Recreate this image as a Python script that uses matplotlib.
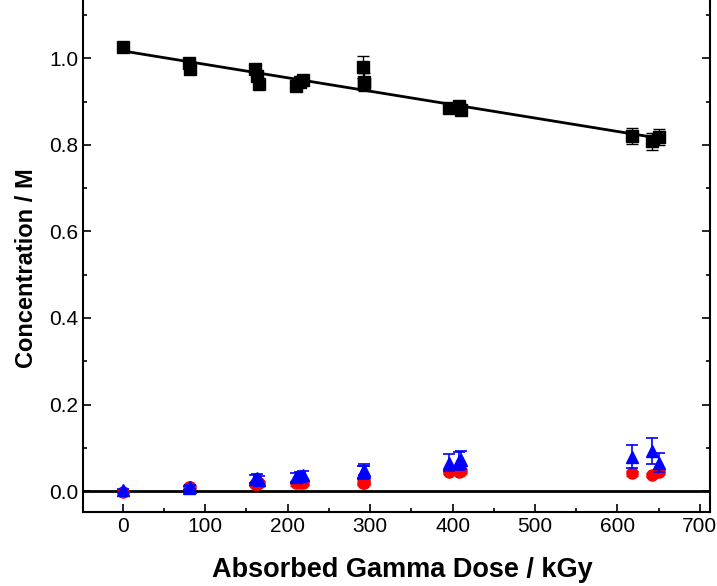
import matplotlib
matplotlib.use("Agg")
import matplotlib.pyplot as plt
from matplotlib.ticker import MultipleLocator
import numpy as np

plt.rcParams['font.family'] = ['Liberation Sans', 'DejaVu Sans']

# absorbed dose (kGy)
dose = [0, 80, 82, 160, 163, 165, 210, 215, 218, 291, 292, 293, 396, 408, 410, 618, 642, 650]

# black squares
conc_a = [1.025, 0.99, 0.975, 0.975, 0.96, 0.94, 0.935, 0.945, 0.95, 0.98, 0.945, 0.94,
          0.886, 0.89, 0.88, 0.82, 0.808, 0.818]
err_a = [0.006, 0.008, 0.008, 0.008, 0.008, 0.008, 0.008, 0.008, 0.008, 0.025, 0.02, 0.01,
         0.006, 0.008, 0.008, 0.018, 0.02, 0.018]

# red circles
conc_b = [-0.002, 0.01, 0.01, 0.016, 0.016, 0.018, 0.018, 0.02, 0.02, 0.02, 0.02, 0.022,
          0.045, 0.044, 0.046, 0.041, 0.037, 0.045]
err_b = [0.003, 0.005, 0.005, 0.005, 0.005, 0.005, 0.005, 0.005, 0.005, 0.005, 0.005, 0.005,
         0.005, 0.005, 0.005, 0.005, 0.005, 0.005]

# blue triangles
conc_c = [0.002, 0.008, 0.01, 0.028, 0.03, 0.026, 0.032, 0.035, 0.037, 0.044, 0.045, 0.05,
          0.066, 0.07, 0.072, 0.08, 0.092, 0.066]
err_c = [0.003, 0.005, 0.005, 0.01, 0.01, 0.01, 0.01, 0.01, 0.01, 0.015, 0.012, 0.012,
         0.02, 0.02, 0.02, 0.027, 0.03, 0.022]


def main():
    fig = plt.figure(figsize=(7.17, 5.86), dpi=100)
    # top edge of the frame lies just above the picture (cropped)
    ax = fig.add_axes([0.116, 0.126, 0.874, 0.8825])

    ax.axhline(0, color="black", lw=2, zorder=1)

    # linear fit to the black series
    p = np.polyfit(dose, conc_a, 1)
    fx = np.array([0, max(dose)])
    ax.plot(fx, np.polyval(p, fx), color="black", lw=2, zorder=2)

    ax.errorbar(dose, conc_a, yerr=err_a, fmt="s", color="black", ms=8,
                elinewidth=1, capsize=4, capthick=1, zorder=3)
    ax.errorbar(dose, conc_b, yerr=err_b, fmt="o", color="red", ecolor="#cc0000", ms=8,
                elinewidth=1, capsize=4, capthick=1, zorder=4)
    ax.errorbar(dose, conc_c, yerr=err_c, fmt="^", color="blue", ms=9,
                elinewidth=1.2, capsize=4, capthick=1.2, zorder=5)

    ax.set_xlim(-48, 712)
    ax.set_ylim(-0.0485, 1.146)
    ax.xaxis.set_major_locator(MultipleLocator(100))
    ax.xaxis.set_minor_locator(MultipleLocator(50))
    ax.yaxis.set_major_locator(MultipleLocator(0.2))
    ax.yaxis.set_minor_locator(MultipleLocator(0.1))
    ax.yaxis.set_major_formatter(matplotlib.ticker.FormatStrFormatter("%.1f"))

    ax.tick_params(which="both", direction="in", top=False, right=True,
                   labelsize=15, width=1.2)
    ax.tick_params(which="major", length=6)
    ax.tick_params(which="minor", length=3)
    for s in ax.spines.values():
        s.set_linewidth(1.5)

    ax.set_xlabel("Absorbed Gamma Dose / kGy", fontsize=19.5, fontweight="bold")
    ax.set_ylabel("Concentration / M", fontsize=17, fontweight="bold")
    ax.xaxis.set_label_coords(0.51, -0.087)
    ax.yaxis.set_label_coords(-0.072, 0.472)

    fig.savefig("out.png", dpi=100)


if __name__ == '__main__':
    main()
